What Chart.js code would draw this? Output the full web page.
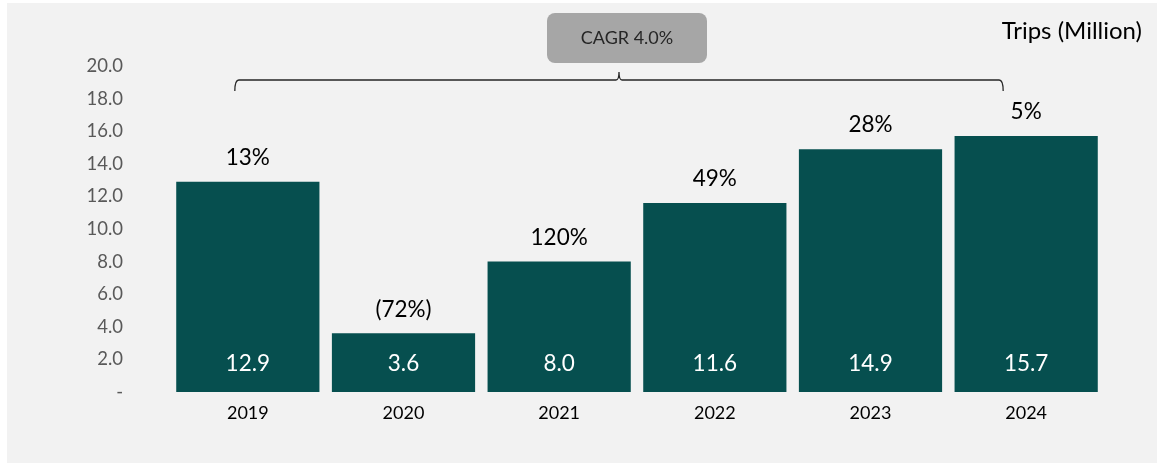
<!DOCTYPE html>
<html>
<head>
<meta charset="utf-8">
<script src="https://cdn.jsdelivr.net/npm/chart.js@4.4.1/dist/chart.umd.min.js"></script>
<style>
  html, body { margin: 0; padding: 0; background: #ffffff; }
  #wrap { width: 1157px; height: 463px; }
</style>
</head>
<body>
<div id="wrap"><canvas id="chartCanvas" width="1157" height="463"></canvas></div>
<script>
// values
const years = ['2019', '2020', '2021', '2022', '2023', '2024'];
const trips = [12.9, 3.6, 8.0, 11.6, 14.9, 15.7];
const growth = ['13%', '(72%)', '120%', '49%', '28%', '5%'];
const cagrText = 'CAGR 4.0%';
const unitText = 'Trips (Million)';

const FONT = 'Lato, "Open Sans", sans-serif';
const barColor = '#064f4f';

// background, growth labels, value labels, CAGR bracket
const decorations = {
  id: 'decorations',
  beforeDraw(chart) {
    const ctx = chart.ctx;
    ctx.save();
    ctx.fillStyle = '#ffffff';
    ctx.fillRect(0, 0, chart.width, chart.height);
    ctx.fillStyle = '#f2f2f2';
    ctx.fillRect(7, 3, chart.width - 7, chart.height - 3);
    ctx.restore();
  },
  afterDatasetsDraw(chart) {
    const ctx = chart.ctx;
    const meta = chart.getDatasetMeta(0);
    const yScale = chart.scales.y;
    const xScale = chart.scales.x;
    const base = yScale.getPixelForValue(0);
    ctx.save();
    ctx.textAlign = 'center';
    ctx.textBaseline = 'middle';
    meta.data.forEach((bar, i) => {
      ctx.font = '22.5px ' + FONT;
      ctx.fillStyle = '#ffffff';
      ctx.fillText(trips[i].toFixed(1), bar.x, base - 28);
      ctx.fillStyle = '#000000';
      ctx.fillText(growth[i], bar.x, bar.y - 24);
    });

    // unit title
    ctx.textAlign = 'right';
    ctx.font = '24px ' + FONT;
    ctx.fillStyle = '#000000';
    ctx.fillText(unitText, 1142, 31);

    // bracket
    const x1 = xScale.getPixelForValue(0) - 13;
    const x2 = xScale.getPixelForValue(years.length - 1) - 23;
    const mid = (x1 + x2) / 2;
    const by = 80;
    ctx.strokeStyle = '#262626';
    ctx.lineWidth = 1.3;
    ctx.beginPath();
    ctx.moveTo(x1, by + 11);
    ctx.quadraticCurveTo(x1, by, x1 + 4, by);
    ctx.lineTo(mid - 3, by);
    ctx.quadraticCurveTo(mid, by, mid, by - 8);
    ctx.quadraticCurveTo(mid, by, mid + 3, by);
    ctx.lineTo(x2 - 4, by);
    ctx.quadraticCurveTo(x2, by, x2, by + 11);
    ctx.stroke();

    // CAGR box
    const bw = 160, bh = 50;
    const bx = mid - 72, byTop = 13;
    ctx.fillStyle = '#a6a6a6';
    ctx.beginPath();
    ctx.roundRect(bx, byTop, bw, bh, 8);
    ctx.fill();
    ctx.textAlign = 'center';
    ctx.font = '18px ' + FONT;
    ctx.fillStyle = '#262626';
    ctx.fillText(cagrText, bx + bw / 2, byTop + bh / 2);
    ctx.restore();
  }
};

new Chart(document.getElementById('chartCanvas').getContext('2d'), {
  type: 'bar',
  data: {
    labels: years,
    datasets: [{
      data: trips,
      backgroundColor: barColor,
      borderWidth: 0,
      barPercentage: 0.92,
      categoryPercentage: 1.0
    }]
  },
  options: {
    responsive: false,
    animation: false,
    layout: { padding: { top: 66, right: 53, bottom: 0, left: 0 } },
    plugins: {
      legend: { display: false },
      tooltip: { enabled: false }
    },
    scales: {
      x: {
        grid: { display: false, drawTicks: false },
        border: { display: false },
        ticks: {
          color: '#000000',
          font: { family: FONT, size: 18 },
          padding: 10
        },
        afterFit(scale) { scale.height = 71; }
      },
      y: {
        min: 0,
        max: 20,
        grid: { display: false, drawTicks: false },
        border: { display: false },
        ticks: {
          stepSize: 2,
          color: '#595959',
          font: { family: FONT, size: 18.5 },
          padding: 47,
          callback: (v) => v === 0 ? '-' : v.toFixed(1)
        },
        afterFit(scale) { scale.width = 170; }
      }
    }
  },
  plugins: [decorations]
});
</script>
</body>
</html>
